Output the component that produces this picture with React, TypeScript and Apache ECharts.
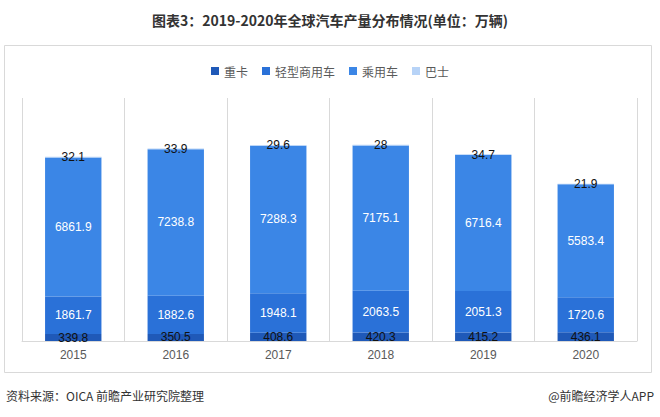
import React, { useEffect, useRef } from "react";
import * as echarts from "echarts";

const years = ["2015", "2016", "2017", "2018", "2019", "2020"];
const heavyTruck = [339.8, 350.5, 408.6, 420.3, 415.2, 436.1];
const lightCommercial = [1861.7, 1882.6, 1948.1, 2063.5, 2051.3, 1720.6];
const passenger = [6861.9, 7238.8, 7288.3, 7175.1, 6716.4, 5583.4];
const bus = [32.1, 33.9, 29.6, 28, 34.7, 21.9];

const seriesNames = ["重卡", "轻型商用车", "乘用车", "巴士"];
const seriesColors = ["#1f59b8", "#2a71d8", "#3b86e6", "#b7d3f7"];
const labelColors = ["#111111", "#ffffff", "#ffffff", "#111111"];
const seriesData = [heavyTruck, lightCommercial, passenger, bus];

const labelFont = "'Liberation Sans', Arial, sans-serif";

export default function App() {
  const ref = useRef<HTMLDivElement>(null);
  useEffect(() => {
    if (!ref.current) return;
    const chart = echarts.init(ref.current, null, { renderer: "svg" });
    chart.setOption({
      animation: false,
      backgroundColor: "#ffffff",
      title: {
        text: "图表3：2019-2020年全球汽车产量分布情况(单位：万辆)",
        left: "center",
        top: 8,
        textStyle: {
          fontFamily: "'Noto Sans CJK SC', sans-serif",
          fontSize: 14,
          fontWeight: "bold",
          color: "#333333",
        },
      },
      legend: {
        top: 60,
        left: "center",
        itemWidth: 8,
        itemHeight: 8,
        itemGap: 14,
        icon: "rect",
        textStyle: {
          fontFamily: "'Noto Sans CJK SC', sans-serif",
          fontSize: 12,
          color: "#595959",
        },
        data: seriesNames,
      },
      grid: { left: 22, right: 23, top: 98, bottom: 76 },
      xAxis: {
        type: "category",
        data: years,
        axisLine: { show: true, lineStyle: { color: "#d9d9d9", width: 1 } },
        axisTick: { show: false },
        splitLine: { show: true, lineStyle: { color: "#d9d9d9", width: 1 } },
        axisLabel: {
          color: "#595959",
          fontSize: 12,
          fontFamily: labelFont,
          margin: 8,
        },
      },
      yAxis: {
        type: "value",
        min: 0,
        max: 12000,
        show: false,
        splitLine: { show: false },
      },
      series: seriesData.map((d, i) => ({
        name: seriesNames[i],
        type: "bar",
        stack: "total",
        barWidth: "55%",
        data: d,
        itemStyle: { color: seriesColors[i] },
        label: {
          show: true,
          position: "inside",
          color: labelColors[i],
          fontSize: 12,
          fontFamily: labelFont,
        },
        labelLayout: { hideOverlap: false },
      })),
      graphic: [
        {
          type: "rect",
          shape: { x: 4.5, y: 45.5, width: 647, height: 327 },
          style: { fill: "none", stroke: "#d9d9d9", lineWidth: 1 },
          silent: true,
        },
        {
          type: "text",
          left: 6,
          top: 389,
          style: {
            text: "资料来源：OICA 前瞻产业研究院整理",
            fill: "#333333",
            fontSize: 12,
            fontFamily: "'Noto Sans CJK SC', sans-serif",
          },
        },
        {
          type: "text",
          right: 6,
          top: 389,
          style: {
            text: "@前瞻经济学人APP",
            fill: "#333333",
            fontSize: 12,
            fontFamily: "'Noto Sans CJK SC', sans-serif",
          },
        },
      ],
    });
    return () => chart.dispose();
  }, []);
  return (
    <div
      ref={ref}
      style={{ position: "fixed", left: 0, top: 0, width: 660, height: 417 }}
    />
  );
}
